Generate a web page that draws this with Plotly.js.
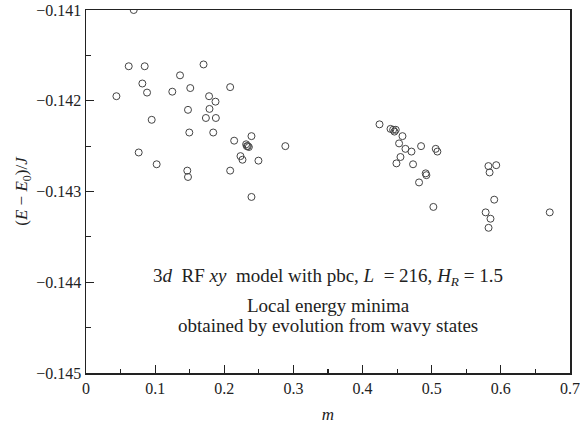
<!DOCTYPE html>
<html>
<head>
<meta charset="utf-8">
<script src="https://cdn.plot.ly/plotly-3.0.1.min.js"></script>
<style>html,body{margin:0;padding:0;background:#fff;}#chart{width:580px;height:424px;}</style>
</head>
<body>
<div id="chart"></div>
<script>
// Local energy minima: magnetization m vs (E - E0)/J
const mValues = [
  0.069, 0.0618, 0.0849, 0.170, 0.136, 0.0815, 0.0883, 0.044, 0.1248, 0.1508,
  0.2085, 0.178, 0.1873, 0.1475, 0.1786, 0.095, 0.1734, 0.1878, 0.1494, 0.184,
  0.2143, 0.2393, 0.2316, 0.234, 0.2355, 0.2326, 0.2883, 0.0762, 0.2234, 0.2263,
  0.2494, 0.1022, 0.1465, 0.1475, 0.2085, 0.2393,
  0.4245, 0.4404, 0.4442, 0.448, 0.4461, 0.4577, 0.4528, 0.462, 0.4707, 0.4846,
  0.5058, 0.5082, 0.4548, 0.449, 0.473, 0.4913, 0.4923, 0.4817, 0.5024, 0.582,
  0.5933, 0.5837, 0.5904, 0.578, 0.585, 0.5822, 0.6707
];
const energyValues = [
  -0.14100, -0.14162, -0.14162, -0.14160, -0.14172, -0.14181, -0.14191, -0.14195, -0.14190, -0.14186,
  -0.14185, -0.14195, -0.14201, -0.14210, -0.14209, -0.14221, -0.14219, -0.14219, -0.14235, -0.14235,
  -0.14244, -0.14239, -0.14248, -0.14250, -0.14251, -0.14250, -0.14250, -0.14257, -0.14261, -0.14265,
  -0.14266, -0.14270, -0.14277, -0.14284, -0.14277, -0.14306,
  -0.14226, -0.14231, -0.14232, -0.14232, -0.14234, -0.14239, -0.14247, -0.14253, -0.14256, -0.14250,
  -0.14253, -0.14256, -0.14262, -0.14269, -0.14270, -0.14280, -0.14282, -0.14290, -0.14317, -0.14272,
  -0.14271, -0.14279, -0.14309, -0.14323, -0.14330, -0.14340, -0.14323
];
const xTickValues = [0, 0.1, 0.2, 0.3, 0.4, 0.5, 0.6, 0.7];
const yTickValues = [-0.145, -0.144, -0.143, -0.142, -0.141];
const noteLines = [
  "3<i>d</i>  RF <i>xy</i>  model with pbc, <i>L</i>  = 216, <i>H</i><sub><i>R</i></sub> = 1.5",
  "Local energy minima",
  "obtained by evolution from wavy states"
];

const serif = "'Liberation Serif', 'DejaVu Serif', serif";
const ink = "#222";

const trace = {
  x: mValues,
  y: energyValues,
  type: "scatter",
  mode: "markers",
  marker: { symbol: "circle-open", size: 7, color: "#444", line: { width: 1, color: "#444" } },
  hoverinfo: "skip"
};

const notePos = [0.265, 0.187, 0.132];
const annotations = noteLines.map((t, i) => ({
  text: t, xref: "paper", yref: "paper", x: 0.5, y: notePos[i],
  xanchor: "center", yanchor: "middle", showarrow: false,
  font: { family: serif, size: 19, color: ink }
}));

const layout = {
  width: 580, height: 424,
  margin: { l: 86, r: 10, t: 10, b: 51, pad: 0 },
  paper_bgcolor: "#fff", plot_bgcolor: "#fff",
  showlegend: false,
  font: { family: serif, size: 15, color: ink },
  xaxis: {
    range: [0, 0.7], tickvals: xTickValues, ticktext: xTickValues.map(v => String(v)),
    ticks: "inside", ticklen: 8, tickwidth: 1.2, tickcolor: ink,
    minor: { dtick: 0.05, ticks: "inside", ticklen: 4.5, tickwidth: 1.2, tickcolor: ink, showgrid: false },
    showline: true, linewidth: 1.5, linecolor: ink, mirror: true,
    showgrid: false, zeroline: false,
    tickfont: { family: serif, size: 16, color: ink },
    title: { text: "<i>m</i>", font: { family: serif, size: 17, color: ink }, standoff: 12 }
  },
  yaxis: {
    range: [-0.145, -0.141], tickvals: yTickValues,
    ticktext: yTickValues.map(v => "\u2212" + Math.abs(v).toFixed(3)),
    ticks: "inside", ticklen: 8, tickwidth: 1.2, tickcolor: ink,
    minor: { dtick: 0.0005, ticks: "inside", ticklen: 4.5, tickwidth: 1.2, tickcolor: ink, showgrid: false },
    showline: true, linewidth: 1.5, linecolor: ink, mirror: true,
    showgrid: false, zeroline: false,
    tickfont: { family: serif, size: 16, color: ink },
    title: { text: "(<i>E</i> \u2212 <i>E</i><sub>0</sub>)/<i>J</i>", font: { family: serif, size: 17, color: ink }, standoff: 4 }
  },
  annotations: annotations
};

Plotly.newPlot("chart", [trace], layout, { staticPlot: true, displayModeBar: false });
</script>
</body>
</html>
